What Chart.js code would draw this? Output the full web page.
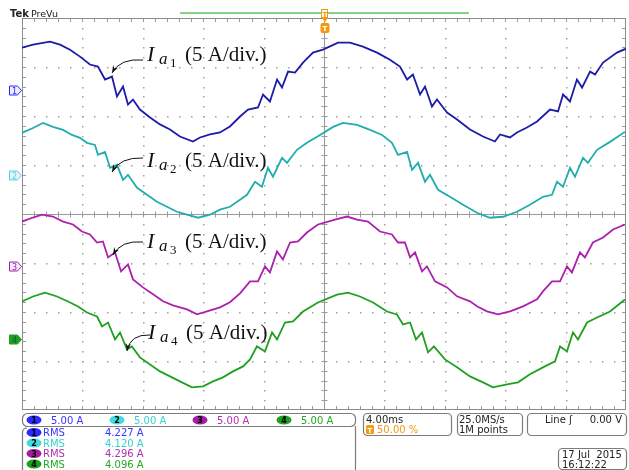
<!DOCTYPE html>
<html lang="en">
<head>
<meta charset="UTF-8">
<title>Phase currents Ia1 - Ia4</title>
<script src="https://cdn.jsdelivr.net/npm/chart.js@4.4.1/dist/chart.umd.min.js"></script>
<style>
    body { margin: 0; background: #fff; }
    .wrap { position: relative; width: 629px; height: 470px; }
</style>
</head>
<body>
<div class="wrap"><canvas id="scope"></canvas></div>
<script>
// 4 ms/div horizontally (10 div), 5 A/div vertically (8 div), trigger at centre
const timePerDiv = 4;
const ampPerDiv = 5;

// values: time in ms, current in A
const ch1Time = [-20.00,-19.27,-18.15,-17.48,-16.82,-16.16,-15.50,-14.97,-14.50,-14.04,-13.71,-13.31,-12.98,-12.65,-12.19,-11.52,-10.86,-10.20,-9.54,-8.68,-8.21,-7.55,-6.89,-6.23,-5.56,-5.03,-4.37,-4.04,-3.58,-3.11,-2.78,-2.38,-1.92,-1.39,-0.73,-0.07,0.93,1.72,2.58,3.51,4.37,5.03,5.50,5.89,6.36,6.69,7.15,7.48,8.15,8.81,9.67,10.53,11.32,11.66,12.32,12.78,13.44,14.11,14.97,15.50,15.83,16.29,16.75,17.09,17.62,17.95,18.48,19.40,20.00];
const ch1Amp  = [4.28,4.58,4.89,4.58,4.07,3.36,2.55,2.34,1.02,1.32,-0.71,0.31,-1.53,-1.02,-2.04,-2.85,-3.56,-4.07,-4.79,-5.30,-4.89,-4.58,-4.38,-3.77,-2.75,-2.04,-1.83,-0.51,-1.22,1.02,0.20,1.83,1.73,2.75,3.77,4.07,4.78,4.78,4.38,3.77,3.05,2.34,1.02,1.53,-0.51,0.31,-1.73,-1.02,-2.34,-3.05,-4.07,-4.79,-5.30,-4.58,-4.89,-4.38,-3.87,-3.26,-2.04,-2.24,-0.51,-1.22,1.02,0.20,1.83,1.53,2.75,3.77,4.17];

const ch2Time = [-20.00,-19.27,-18.61,-17.95,-17.28,-16.69,-16.16,-15.70,-15.17,-14.97,-14.50,-14.17,-13.71,-13.31,-12.98,-12.38,-11.72,-11.06,-10.40,-9.74,-9.07,-8.34,-7.55,-6.89,-6.23,-5.56,-5.10,-4.57,-4.11,-3.71,-3.38,-2.78,-2.45,-1.79,-1.13,-0.26,0.60,1.26,2.19,3.05,3.84,4.50,4.90,5.50,5.83,6.23,6.69,7.02,7.55,8.34,9.21,10.13,10.99,11.85,12.78,13.64,14.50,15.10,15.43,15.83,16.29,16.62,17.15,17.48,18.08,18.94,19.93];
const ch2Amp  = [4.28,4.78,5.29,4.89,4.58,4.07,3.77,3.26,3.05,2.04,2.34,0.71,1.02,-0.51,0.00,-1.32,-2.04,-2.75,-3.26,-3.77,-4.07,-4.38,-4.07,-3.56,-3.26,-2.55,-2.04,-0.71,-1.22,0.71,-0.20,1.73,1.22,2.55,3.26,4.07,4.89,5.29,5.09,4.58,4.07,3.26,2.04,2.34,0.51,1.22,-0.71,0.00,-1.53,-2.24,-3.05,-3.87,-4.38,-4.28,-3.77,-3.05,-2.24,-2.04,-0.71,-1.22,0.71,-0.20,1.73,1.22,2.55,3.36,4.38];

const ch3Time = [-20.00,-19.27,-18.68,-17.95,-17.28,-16.62,-16.03,-15.50,-15.03,-14.64,-14.30,-13.84,-13.44,-12.98,-12.65,-11.99,-11.32,-10.66,-10.00,-9.07,-8.41,-7.75,-6.89,-6.23,-5.56,-4.90,-4.37,-3.91,-3.58,-3.11,-2.72,-2.25,-1.72,-1.13,-0.40,0.73,1.52,2.19,2.91,3.71,4.50,4.90,5.36,5.70,6.03,6.49,6.82,7.35,8.15,8.81,9.67,10.13,10.79,11.52,12.32,13.18,14.11,14.50,15.10,15.63,16.09,16.42,16.95,17.28,17.81,18.48,19.14,19.93];
const ch3Amp  = [4.58,4.99,5.29,5.09,4.58,4.28,3.56,3.26,2.44,2.55,0.92,1.43,-0.51,0.20,-1.32,-2.14,-2.85,-3.56,-3.97,-4.38,-4.89,-4.58,-4.17,-3.66,-2.75,-1.53,-1.53,0.00,-0.61,1.53,0.71,2.44,2.55,3.46,4.28,4.78,5.09,4.78,4.58,3.56,3.26,2.44,2.44,0.92,1.43,-0.51,0.00,-1.53,-2.14,-3.05,-3.56,-4.07,-4.58,-4.89,-4.58,-4.07,-3.36,-2.55,-1.53,-1.53,0.00,-0.61,1.43,0.92,2.44,2.95,3.77,4.28];

const ch4Time = [-20.00,-19.27,-18.48,-17.68,-16.95,-16.29,-15.70,-15.03,-14.70,-14.30,-13.84,-13.51,-13.05,-12.72,-12.19,-11.52,-10.86,-10.20,-9.54,-8.74,-8.01,-7.35,-6.69,-6.03,-5.36,-4.90,-4.44,-3.91,-3.44,-3.11,-2.58,-2.05,-1.39,-0.40,0.86,1.59,2.38,3.25,4.17,4.83,5.23,5.70,6.09,6.49,6.89,7.28,8.01,8.81,9.67,10.53,11.19,12.12,12.85,13.64,14.50,15.30,15.63,16.09,16.49,16.82,17.42,18.08,18.94,19.93];
const ch4Amp  = [3.87,4.38,4.78,4.38,3.87,3.36,2.75,2.34,1.32,1.73,0.00,0.71,-1.02,-0.71,-1.83,-2.55,-3.26,-3.77,-4.28,-4.89,-4.78,-4.28,-3.87,-3.26,-2.75,-2.04,-0.71,-1.22,0.71,0.00,1.73,1.83,2.85,3.77,4.58,4.78,4.38,3.77,2.85,2.55,1.53,1.73,0.00,0.71,-1.32,-0.71,-2.04,-2.85,-3.77,-4.38,-4.89,-4.58,-4.38,-3.56,-2.85,-2.24,-0.71,-1.22,0.71,0.00,1.73,2.24,2.85,4.07];

const channelNames = ['1', '2', '3', '4'];
const channelScale = ['5.00 A', '5.00 A', '5.00 A', '5.00 A'];
const rmsValues = ['4.227 A', '4.120 A', '4.296 A', '4.096 A'];
const labelIndex = ['1', '2', '3', '4'];

// channel ground levels on screen, in divisions from centre
const chPosition = [2.54, 0.80, -1.07, -2.56];
const traceColors = ['#1c1ca8', '#22adad', '#ad20ad', '#20a020'];
const textColors = ['#3535ff', '#35d2d2', '#b030b0', '#22aa22'];
const badgeColors = ['#2a2aff', '#3fdcdc', '#a21fa2', '#1f9f1f'];

const times = [ch1Time, ch2Time, ch3Time, ch4Time];
const amps = [ch1Amp, ch2Amp, ch3Amp, ch4Amp];

const datasets = amps.map((a, i) => ({
    label: 'CH' + channelNames[i],
    data: a.map((v, k) => ({ x: times[i][k], y: v / ampPerDiv + chPosition[i] })),
    borderColor: traceColors[i],
    borderWidth: 1.8,
    pointRadius: 0,
    tension: 0,
    fill: false
}));

// Tek style graticule
const graticule = {
    id: 'graticule',
    beforeDatasetsDraw(chart) {
        const { ctx, chartArea: a, scales: { x, y } } = chart;
        ctx.save();
        const minorX = timePerDiv / 5, minorY = 0.2;
        // dotted major lines
        ctx.fillStyle = '#a0a0a0';
        for (let t = -20 + timePerDiv; t < 20; t += timePerDiv) {
            if (Math.abs(t) < 0.01) continue;
            const px = Math.round(x.getPixelForValue(t));
            for (let v = -4 + minorY; v < 4; v += minorY) {
                ctx.fillRect(px, Math.round(y.getPixelForValue(v)), 1.5, 1.5);
            }
        }
        for (let d = -3; d <= 3; d++) {
            if (d === 0) continue;
            const py = Math.round(y.getPixelForValue(d));
            for (let t = -20 + minorX; t < 20; t += minorX) {
                ctx.fillRect(Math.round(x.getPixelForValue(t)), py, 1.5, 1.5);
            }
        }
        // centre cross
        ctx.strokeStyle = '#9a9a9a';
        ctx.lineWidth = 1;
        const cx = Math.round(x.getPixelForValue(0)) + 0.5;
        const cy = Math.round(y.getPixelForValue(0)) + 0.5;
        ctx.beginPath();
        ctx.moveTo(a.left, cy); ctx.lineTo(a.right, cy);
        ctx.moveTo(cx, a.top); ctx.lineTo(cx, a.bottom);
        for (let t = -20 + minorX; t < 20; t += minorX) {
            const px = Math.round(x.getPixelForValue(t)) + 0.5;
            ctx.moveTo(px, cy - 3); ctx.lineTo(px, cy + 3);
            ctx.moveTo(px, a.top); ctx.lineTo(px, a.top + 4);
            ctx.moveTo(px, a.bottom); ctx.lineTo(px, a.bottom - 4);
        }
        for (let v = -4 + minorY; v < 4; v += minorY) {
            const py = Math.round(y.getPixelForValue(v)) + 0.5;
            ctx.moveTo(cx - 3, py); ctx.lineTo(cx + 3, py);
            ctx.moveTo(a.left, py); ctx.lineTo(a.left + 4, py);
            ctx.moveTo(a.right, py); ctx.lineTo(a.right - 4, py);
        }
        ctx.stroke();
        // frame
        ctx.strokeStyle = '#8a8a8a';
        ctx.strokeRect(Math.round(a.left) + 0.5, Math.round(a.top) + 0.5,
            Math.round(a.right - a.left) - 1, Math.round(a.bottom - a.top) - 1);
        ctx.restore();
    }
};

function arrow(ctx, x0, y0, qx, qy, x1, y1) {
    ctx.beginPath();
    ctx.moveTo(x0, y0);
    ctx.quadraticCurveTo(qx, qy, x1, y1);
    ctx.stroke();
    const ang = Math.atan2(y1 - qy, x1 - qx);
    ctx.beginPath();
    ctx.moveTo(x1, y1);
    ctx.lineTo(x1 - 8 * Math.cos(ang - 0.35), y1 - 8 * Math.sin(ang - 0.35));
    ctx.lineTo(x1 - 5 * Math.cos(ang), y1 - 5 * Math.sin(ang));
    ctx.lineTo(x1 - 8 * Math.cos(ang + 0.35), y1 - 8 * Math.sin(ang + 0.35));
    ctx.closePath();
    ctx.fill();
}

function badge(ctx, cx, cy, color, txt) {
    ctx.fillStyle = color;
    ctx.beginPath();
    ctx.ellipse(cx, cy, 7.5, 4.6, 0, 0, Math.PI * 2);
    ctx.fill();
    ctx.fillStyle = '#000';
    ctx.font = 'bold 8px "DejaVu Sans"';
    ctx.textAlign = 'center';
    ctx.fillText(txt, cx, cy + 3);
    ctx.textAlign = 'left';
}

function box(ctx, x, y, w, h, r) {
    ctx.beginPath();
    ctx.roundRect(x + 0.5, y + 0.5, w, h, r);
    ctx.stroke();
}

const overlay = {
    id: 'overlay',
    afterDraw(chart) {
        const { ctx, chartArea: a, scales: { x, y } } = chart;
        ctx.save();

        // header
        ctx.fillStyle = '#222';
        ctx.font = 'bold 10px "DejaVu Sans"';
        ctx.fillText('Tek', 10, 17);
        ctx.font = '9.5px "DejaVu Sans"';
        ctx.fillText('PreVu', 31, 17);
        ctx.strokeStyle = '#5cc45c';
        ctx.lineWidth = 1.5;
        ctx.beginPath(); ctx.moveTo(180, 13); ctx.lineTo(469, 13); ctx.stroke();

        // trigger position marker
        const tx = Math.round(x.getPixelForValue(0));
        ctx.strokeStyle = '#f39a12';
        ctx.fillStyle = '#fff';
        ctx.lineWidth = 1;
        ctx.fillRect(tx - 3, 9, 7, 9);
        ctx.strokeRect(tx - 2.5, 9.5, 6, 8);
        ctx.fillStyle = '#f39a12';
        ctx.beginPath(); ctx.moveTo(tx - 2, 18); ctx.lineTo(tx + 4, 18); ctx.lineTo(tx + 1, 22); ctx.fill();
        ctx.font = 'bold 7px "DejaVu Sans"';
        ctx.textAlign = 'center';
        ctx.fillText('T', tx + 1, 16.5);
        ctx.beginPath(); ctx.roundRect(tx - 3.5, 23, 9, 10, 2); ctx.fill();
        ctx.fillStyle = '#fff';
        ctx.fillText('T', tx + 1, 31);
        ctx.textAlign = 'left';

        // channel ground markers
        chPosition.forEach((p, i) => {
            const py = Math.round(y.getPixelForValue(p)) + 0.5;
            ctx.beginPath();
            ctx.moveTo(9.5, py - 4.5); ctx.lineTo(17.5, py - 4.5); ctx.lineTo(21.5, py);
            ctx.lineTo(17.5, py + 4.5); ctx.lineTo(9.5, py + 4.5); ctx.closePath();
            ctx.strokeStyle = badgeColors[i];
            ctx.lineWidth = 1;
            if (i === 3) { ctx.fillStyle = badgeColors[i]; ctx.fill(); }
            else { ctx.fillStyle = '#eef'; ctx.fill(); }
            ctx.stroke();
            ctx.fillStyle = i === 3 ? '#063' : badgeColors[i];
            ctx.font = '8px "DejaVu Sans"';
            ctx.fillText(channelNames[i], 12, py + 3);
        });

        // trace labels with arrows
        const labels = [
            { tx: 147, ty: 61, a: [143, 60, 120, 58, 112, 73] },
            { tx: 147, ty: 167, a: [143, 158, 120, 157, 112, 172] },
            { tx: 147, ty: 248, a: [143, 242, 121, 240, 113, 255] },
            { tx: 148, ty: 339, a: [150, 335, 130, 334, 127, 351] }
        ];
        ctx.fillStyle = '#111';
        ctx.strokeStyle = '#111';
        ctx.lineWidth = 1;
        labels.forEach((l, i) => {
            ctx.font = 'italic 22px "Liberation Serif"';
            ctx.fillText('I', l.tx, l.ty);
            ctx.font = 'italic 17px "Liberation Serif"';
            ctx.fillText('a', l.tx + 12, l.ty + 3);
            ctx.font = '13px "Liberation Serif"';
            ctx.fillText(labelIndex[i], l.tx + 23, l.ty + 6);
            ctx.font = '21px "Liberation Serif"';
            ctx.fillText('(5 A/div.)', l.tx + 38, l.ty);
            arrow(ctx, ...l.a);
        });

        // readout panel
        ctx.strokeStyle = '#7c7c7c';
        ctx.lineWidth = 1.2;
        box(ctx, 22, 413, 333, 13, 5);
        ctx.beginPath();
        ctx.moveTo(22.5, 470); ctx.lineTo(22.5, 433); ctx.quadraticCurveTo(22.5, 428, 27, 428);
        ctx.moveTo(355.5, 426); ctx.lineTo(355.5, 470);
        ctx.stroke();
        box(ctx, 363, 413, 88, 22, 4);
        box(ctx, 457, 413, 65, 22, 4);
        box(ctx, 527, 413, 99, 22, 4);
        box(ctx, 558, 448, 68, 21, 4);

        ctx.font = '10px "DejaVu Sans"';
        const bx = [34, 117, 200, 284];
        channelScale.forEach((s, i) => {
            badge(ctx, bx[i], 420, badgeColors[i], channelNames[i]);
            ctx.font = '10px "DejaVu Sans"';
            ctx.fillStyle = textColors[i];
            ctx.fillText(s, bx[i] + 17, 424);
        });
        const ry = [432.5, 443, 453.5, 464];
        rmsValues.forEach((v, i) => {
            badge(ctx, 34, ry[i], badgeColors[i], channelNames[i]);
            ctx.font = '10px "DejaVu Sans"';
            ctx.fillStyle = textColors[i];
            ctx.fillText('RMS', 43, ry[i] + 3.5);
            ctx.fillText(v, 105, ry[i] + 3.5);
        });

        ctx.fillStyle = '#222';
        ctx.font = '10px "DejaVu Sans"';
        ctx.fillText('4.00ms', 366, 423);
        ctx.fillText('25.0MS/s', 459, 423);
        ctx.fillText('1M points', 459, 433);
        ctx.fillText('Line', 545, 423);
        ctx.fillText('\u0283', 569, 423);
        ctx.textAlign = 'right';
        ctx.fillText('0.00 V', 622, 423);
        ctx.textAlign = 'left';
        ctx.fillText('17 Jul  2015', 562, 458);
        ctx.fillText('16:12:22', 562, 468);

        ctx.fillStyle = '#f39a12';
        ctx.beginPath(); ctx.roundRect(366, 425, 8, 9, 1.5); ctx.fill();
        ctx.fillStyle = '#fff';
        ctx.font = 'bold 7px "DejaVu Sans"';
        ctx.fillText('T', 367.5, 432.5);
        ctx.fillStyle = '#f39a12';
        ctx.font = '10px "DejaVu Sans"';
        ctx.fillText('50.00 %', 377, 433);

        ctx.restore();
    }
};

new Chart(document.getElementById('scope').getContext('2d'), {
    type: 'line',
    data: { datasets: datasets },
    options: {
        responsive: true,
        maintainAspectRatio: false,
        animation: false,
        layout: { padding: { left: 22, top: 18, right: 3, bottom: 60 } },
        scales: {
            x: { type: 'linear', min: -20, max: 20, display: false },
            y: { type: 'linear', min: -4, max: 4, display: false }
        },
        plugins: {
            legend: { display: false },
            tooltip: { enabled: false }
        }
    },
    plugins: [graticule, overlay]
});
</script>
</body>
</html>
